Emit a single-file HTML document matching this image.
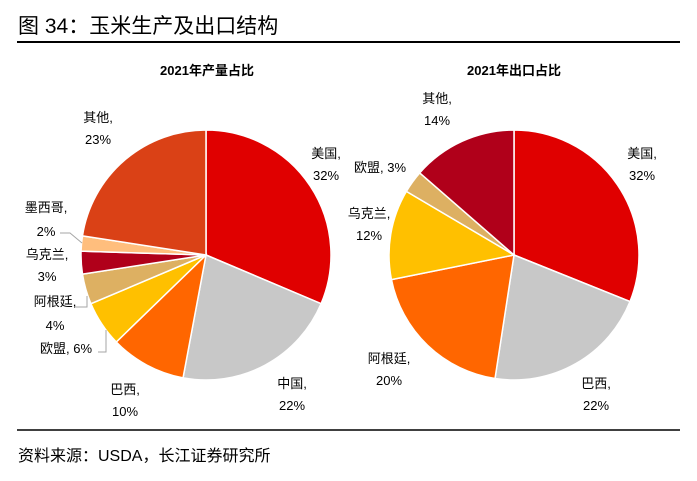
<!DOCTYPE html>
<html><head><meta charset="utf-8"><style>
body{margin:0;background:#fff;font-family:"Liberation Sans","Noto Sans CJK SC",sans-serif;}
#wrap{position:relative;width:697px;height:481px;overflow:hidden;}
</style></head><body>
<div id="wrap">
<svg width="697" height="481" xmlns="http://www.w3.org/2000/svg">
<text x="18" y="33" font-size="21" fill="#000" font-family="Liberation Sans,Noto Sans CJK SC,sans-serif">图  34：玉米生产及出口结构</text>
<line x1="17" y1="42" x2="680" y2="42" stroke="#000" stroke-width="2"/>
<text x="207" y="75" font-size="13" font-weight="bold" text-anchor="middle">2021年产量占比</text>
<text x="514" y="75" font-size="13" font-weight="bold" text-anchor="middle">2021年出口占比</text>
<g id="left"></g>
<g id="right"></g>
<g font-size="13" fill="#000">
<text x="98" y="122" text-anchor="middle"><tspan>其他,</tspan><tspan x="98" dy="22">23%</tspan></text>
<text x="326" y="158" text-anchor="middle"><tspan>美国,</tspan><tspan x="326" dy="22">32%</tspan></text>
<text x="292" y="388" text-anchor="middle"><tspan>中国,</tspan><tspan x="292" dy="22">22%</tspan></text>
<text x="125" y="394" text-anchor="middle"><tspan>巴西,</tspan><tspan x="125" dy="22">10%</tspan></text>
<text x="46" y="212" text-anchor="middle"><tspan>墨西哥,</tspan><tspan x="46" dy="24">2%</tspan></text>
<text x="47" y="259" text-anchor="middle"><tspan>乌克兰,</tspan><tspan x="47" dy="22">3%</tspan></text>
<text x="55" y="306" text-anchor="middle"><tspan>阿根廷,</tspan><tspan x="55" dy="24">4%</tspan></text>
<text x="66" y="353" text-anchor="middle">欧盟, 6%</text>
<text x="437" y="103" text-anchor="middle"><tspan>其他,</tspan><tspan x="437" dy="22">14%</tspan></text>
<text x="642" y="158" text-anchor="middle"><tspan>美国,</tspan><tspan x="642" dy="22">32%</tspan></text>
<text x="596" y="388" text-anchor="middle"><tspan>巴西,</tspan><tspan x="596" dy="22">22%</tspan></text>
<text x="389" y="363" text-anchor="middle"><tspan>阿根廷,</tspan><tspan x="389" dy="22">20%</tspan></text>
<text x="369" y="218" text-anchor="middle"><tspan>乌克兰,</tspan><tspan x="369" dy="22">12%</tspan></text>
<text x="380" y="172" text-anchor="middle">欧盟, 3%</text>
</g>
<g stroke="#a6a6a6" fill="none" stroke-width="1">
<polyline points="60,233 70,233 82,243"/>
<polyline points="75,307 87,307 87,296"/>
<polyline points="98,352 106,352 106,330"/>
</g>
<line x1="17" y1="430" x2="680" y2="430" stroke="#000" stroke-width="1.5"/>
<text x="18" y="461" font-size="16">资料来源：USDA，长江证券研究所</text>
</svg>
</div>
<script>
const leftCategories=["美国","中国","巴西","欧盟","阿根廷","乌克兰","墨西哥","其他"];
const leftValues=[32,22,10,6,4,3,2,23];
const leftColors=["#E00000","#C8C8C8","#FF6600","#FFC000","#DDB062","#B0001A","#FFBE7D","#DA4116"];
const rightCategories=["美国","巴西","阿根廷","乌克兰","欧盟","其他"];
const rightValues=[32,22,20,12,3,14];
const rightColors=["#E00000","#C8C8C8","#FF6600","#FFC000","#DDB062","#B0001A"];
function drawPie(gid,cats,vals,cols,cx,cy,r){
  const g=document.getElementById(gid);
  const tot=vals.reduce((a,b)=>a+b,0);
  let a=0;
  vals.forEach((v,i)=>{
    const a0=a/tot*2*Math.PI,a1=(a+v)/tot*2*Math.PI;a+=v;
    const x0=cx+r*Math.sin(a0),y0=cy-r*Math.cos(a0),x1=cx+r*Math.sin(a1),y1=cy-r*Math.cos(a1);
    const p=document.createElementNS("http://www.w3.org/2000/svg","path");
    p.setAttribute("d",`M${cx},${cy}L${x0},${y0}A${r},${r} 0 ${a1-a0>Math.PI?1:0} 1 ${x1},${y1}Z`);
    p.setAttribute("fill",cols[i]);p.setAttribute("stroke","#fff");p.setAttribute("stroke-width","1.5");
    
    
    g.appendChild(p);
  });
}
drawPie("left",leftCategories,leftValues,leftColors,206,255,125);
drawPie("right",rightCategories,rightValues,rightColors,514,255,125);
</script>
</body></html>
